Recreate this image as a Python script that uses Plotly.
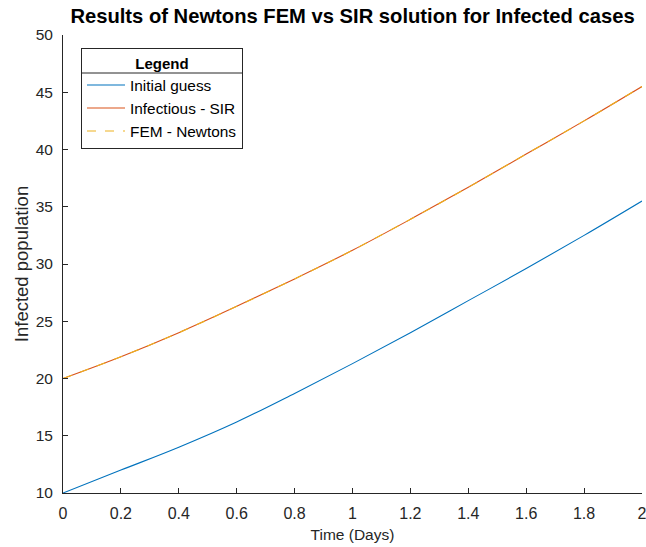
import plotly.graph_objects as go

time_days = [0.0, 0.2, 0.4, 0.6, 0.8, 1.0, 1.2, 1.4, 1.6, 1.8, 2.0]
initial_guess = [10.0, 12.0, 14.0, 16.2, 18.7, 21.3, 24.0, 26.8, 29.6, 32.5, 35.5]
infectious_sir = [20.0, 21.9, 24.0, 26.3, 28.7, 31.2, 33.9, 36.7, 39.6, 42.5, 45.5]
fem_newtons = [20.0, 21.9, 24.0, 26.3, 28.7, 31.2, 33.9, 36.7, 39.6, 42.5, 45.5]

x_ticks = [0, 0.2, 0.4, 0.6, 0.8, 1, 1.2, 1.4, 1.6, 1.8, 2]
x_tick_labels = ["0", "0.2", "0.4", "0.6", "0.8", "1", "1.2", "1.4", "1.6", "1.8", "2"]
y_ticks = [10, 15, 20, 25, 30, 35, 40, 45, 50]
y_tick_labels = ["10", "15", "20", "25", "30", "35", "40", "45", "50"]

FONT = "Liberation Sans, Arial, sans-serif"
AX = "#262626"

fig = go.Figure()
fig.add_trace(go.Scatter(x=time_days, y=initial_guess, mode="lines", name="Initial guess",
                         line=dict(color="#0072BD", width=1.1, shape="spline")))
fig.add_trace(go.Scatter(x=time_days, y=infectious_sir, mode="lines", name="Infectious - SIR",
                         line=dict(color="#D95319", width=1.1, shape="spline")))
fig.add_trace(go.Scatter(x=time_days, y=fem_newtons, mode="lines", name="FEM - Newtons",
                         line=dict(color="#EDB120", width=1.1, dash="dash", shape="spline")))

fig.update_layout(
    width=646, height=547,
    margin=dict(l=63, r=4, t=35, b=54, autoexpand=False),
    paper_bgcolor="white", plot_bgcolor="white",
    font=dict(family=FONT, size=14, color=AX),
    title=dict(text="<b>Results of Newtons FEM vs SIR solution for Infected cases</b>",
               x=(63 + 579 / 2) / 646, xanchor="center", y=1 - 16 / 547, yanchor="middle",
               font=dict(family=FONT, size=20.2, color="black")),
    showlegend=True,
    legend=dict(
        x=(81 - 63) / 579, y=(493 - 48) / 458, xanchor="left", yanchor="top",
        bgcolor="rgba(255,255,255,0)", bordercolor=AX, borderwidth=1,
        font=dict(family=FONT, size=15.4, color="black"),
        title=dict(text="<b>Legend</b>", side="top center", font=dict(family=FONT, size=15, color="black")),
        tracegroupgap=0, itemwidth=38,
    ),
    xaxis=dict(
        range=[0, 2], tickvals=x_ticks, ticktext=x_tick_labels, automargin=False,
        showline=True, linecolor=AX, linewidth=1, mirror=False,
        ticks="inside", ticklen=5, tickcolor=AX, showgrid=False, zeroline=False,
        ticklabeloverflow="allow", ticklabelstandoff=6,
        title=dict(text="Time (Days)", font=dict(family=FONT, size=15.5, color=AX), standoff=7),
        tickfont=dict(family=FONT, size=16, color=AX),
    ),
    yaxis=dict(
        range=[10, 50], tickvals=y_ticks, ticktext=y_tick_labels, automargin=False,
        showline=True, linecolor=AX, linewidth=1, mirror=False,
        ticks="inside", ticklen=5, tickcolor=AX, showgrid=False, zeroline=False,
        ticklabeloverflow="allow", ticklabelstandoff=6,
        title=dict(text="Infected population", font=dict(family=FONT, size=18.5, color=AX), standoff=2),
        tickfont=dict(family=FONT, size=15.5, color=AX),
    ),
)

fig.add_shape(type="line", xref="paper", yref="paper",
              x0=(81 - 63) / 579, x1=(243 - 63) / 579,
              y0=(493 - 73) / 458, y1=(493 - 73) / 458,
              line=dict(color=AX, width=1))

fig.write_html("out.html")
